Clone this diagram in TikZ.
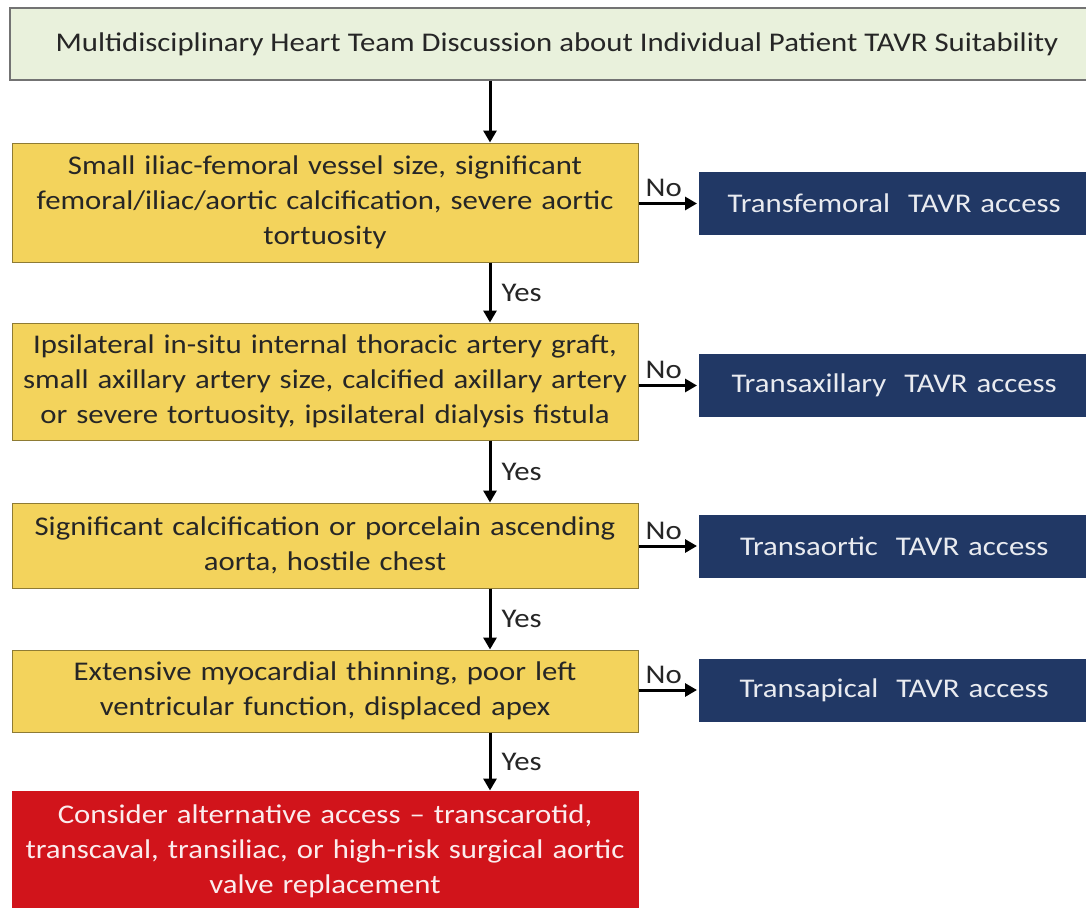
\documentclass[tikz,border=0pt]{standalone}
\usepackage{fontspec}
\setmainfont{Carlito}[FakeStretch=1.14]
\usepackage{xcolor}
\usepackage{tikz}
\usetikzlibrary{arrows.meta, positioning}

\definecolor{verdino}{HTML}{E9F1DC}
\definecolor{giallo}{HTML}{F3D35C}
\definecolor{bordogiallo}{HTML}{8E7B34}
\definecolor{blunotte}{HTML}{213865}
\definecolor{rosso}{HTML}{D1141B}

\begin{document}
\begin{tikzpicture}[
    x=1pt, y=-1pt,
    >={Triangle[length=12pt, width=13pt]},
    freccia/.style={->, line width=3pt},
    domanda/.style={draw=bordogiallo, line width=1pt, fill=giallo, minimum width=626pt,
        text width=622pt, align=center, inner sep=0pt, text=black!85,
        font=\fontsize{27}{35}\selectfont},
    accesso/.style={fill=blunotte, text=white!90!blunotte, anchor=west, minimum height=63pt,
        text width=350pt, inner xsep=20pt, align=center, font=\fontsize{27}{33}\selectfont},
    etichetta/.style={font=\fontsize{27}{33}\selectfont, inner sep=2pt, text=black!85}
]

    % Area del disegno
    \useasboundingbox (0,0) rectangle (1086,907);
    \clip (0,0) rectangle (1086,907);
    \fill[white] (0,0) rectangle (1086,907);

    % Riquadro iniziale
    \node[draw=gray!90!black, line width=1.2pt, fill=verdino, minimum width=1094pt, minimum height=72pt,
        text=black!85, font=\fontsize{27}{33}\selectfont] (team) at (557,44)
        {Multidisciplinary Heart Team Discussion about Individual Patient TAVR Suitability};

    % Criteri (colonna di sinistra)
    \node[domanda, minimum height=119pt] (femorale) at (325,202.5)
        {Small iliac-femoral vessel size, significant\\ femoral/iliac/aortic calcification, severe aortic\\ tortuosity};
    \node[domanda, minimum height=117pt] (ascellare) at (325,381.5)
        {Ipsilateral in-situ internal thoracic artery graft,\\ small axillary artery size, calcified axillary artery\\ or severe tortuosity, ipsilateral dialysis fistula};
    \node[domanda, minimum height=85pt] (aortico) at (325,545.5)
        {Significant calcification or porcelain ascending\\ aorta, hostile chest};
    \node[domanda, minimum height=82pt] (apicale) at (325,691)
        {Extensive myocardial thinning, poor left\\ ventricular function, displaced apex};
    \node[domanda, draw=rosso, fill=rosso, text=white!92!rosso, minimum height=120pt] (alternativa) at (325,851)
        {Consider alternative access -- transcarotid,\\ transcaval, transiliac, or high-risk surgical aortic\\ valve replacement};

    % Vie di accesso (colonna di destra)
    \node[accesso] (tf) at (699,203.5) {Transfemoral\ \ TAVR access};
    \node[accesso] (tx) at (699,385.5) {Transaxillary\ \ TAVR access};
    \node[accesso] (ta) at (699,546) {Transaortic\ \ TAVR access};
    \node[accesso] (tap) at (699,690) {Transapical\ \ TAVR access};

    % Frecce verticali (Yes)
    \coordinate (asse) at (490,0);
    \draw[freccia] (team.south -| asse) -- (femorale.north -| asse);
    \draw[freccia] (femorale.south -| asse) -- (ascellare.north -| asse) node[midway, right=8pt, etichetta] {Yes};
    \draw[freccia] (ascellare.south -| asse) -- (aortico.north -| asse) node[midway, right=8pt, etichetta] {Yes};
    \draw[freccia] (aortico.south -| asse) -- (apicale.north -| asse) node[midway, right=8pt, etichetta] {Yes};
    \draw[freccia] (apicale.south -| asse) -- (alternativa.north -| asse) node[midway, right=8pt, etichetta] {Yes};

    % Frecce orizzontali (No)
    \foreach \da/\a in {femorale/tf, ascellare/tx, aortico/ta, apicale/tap}
        \draw[freccia] (\da.east |- \a.west) -- ([xshift=-2pt]\a.west) node[midway, above=3pt, xshift=-4pt, etichetta] {No};

\end{tikzpicture}
\end{document}
